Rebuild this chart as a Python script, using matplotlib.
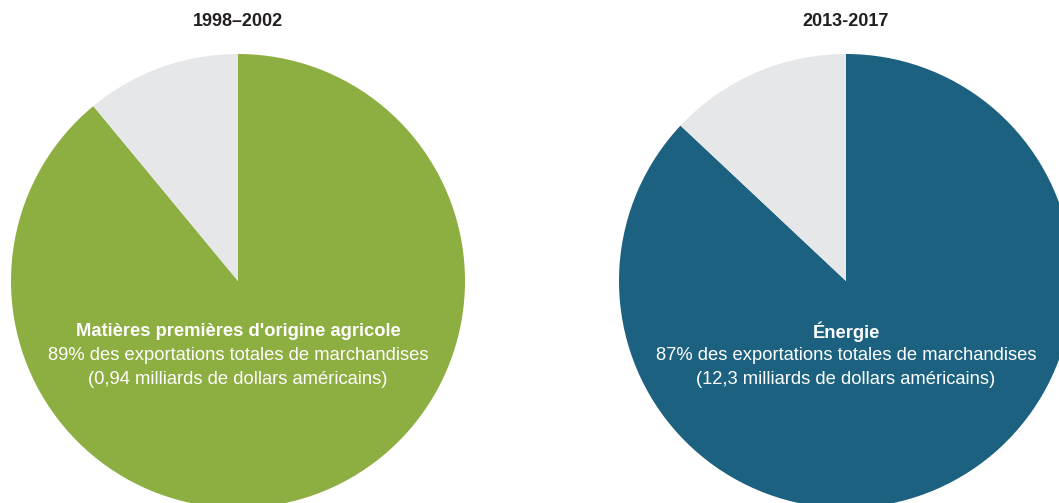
import matplotlib.pyplot as plt

periods = ['1998–2002', '2013-2017']
shares = [89, 87]
categories = ['Matières premières d\'origine agricole', 'Énergie']
values_text = ['0,94', '12,3']
main_colors = ['#8DAE41', '#1C6280']
rest_color = '#E6E7E9'

font = ['Liberation Sans Narrow', 'Liberation Sans', 'DejaVu Sans']
plt.rcParams['font.family'] = font

W, H = 1059, 503
fig = plt.figure(figsize=(W / 100, H / 100), dpi=100)

centers = [(238, 281), (846, 281)]
r = 227

for i in range(2):
    cx, cy = centers[i]
    ax = fig.add_axes([(cx - r) / W, (H - cy - r) / H, 2 * r / W, 2 * r / H])
    ax.pie([shares[i], 100 - shares[i]], colors=[main_colors[i], rest_color],
           startangle=90, counterclock=False, radius=1,
           wedgeprops={'linewidth': 0})
    ax.set_xlim(-1, 1)
    ax.set_ylim(-1, 1)
    ax.set_aspect('equal')
    ax.axis('off')

    fig.text(cx / W, 1 - 22 / H, periods[i], ha='center', va='center',
             fontsize=13, weight='bold', color='#231F20')
    fig.text(cx / W, 1 - 332 / H, categories[i], ha='center', va='center',
             fontsize=13.2, weight='bold', color='white')
    fig.text(cx / W, 1 - 356 / H, f'{shares[i]}% des exportations totales de marchandises',
             ha='center', va='center', fontsize=13.2, color='white')
    fig.text(cx / W, 1 - 380 / H, f'({values_text[i]} milliards de dollars américains)',
             ha='center', va='center', fontsize=13.2, color='white')

fig.savefig('out.png', dpi=100)
